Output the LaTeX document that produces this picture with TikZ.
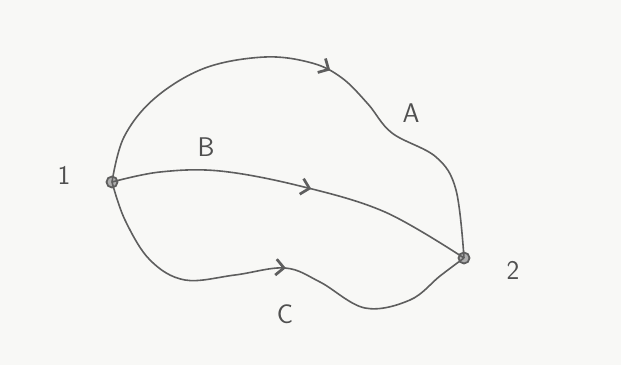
\documentclass[tikz,border=0pt]{standalone}
\usepackage{tikz}
\usetikzlibrary{arrows.meta,decorations.markings}
\definecolor{paper}{HTML}{F8F8F6}
\definecolor{pencil}{HTML}{5E5E5E}

\begin{document}
\begin{tikzpicture}[x=1pt,y=-1pt,>=Straight Barb,
  wire/.style={draw=pencil,line width=1.6pt},
  midarrow/.style={postaction={decorate},decoration={markings,
    mark=at position #1 with {\arrow[pencil,line width=1.6pt,scale=1.7]{>}}}}]
\fill[paper] (0,0) rectangle (621,365);
\useasboundingbox (0,0) rectangle (621,365);
\node[circle,draw=pencil,line width=1.8pt,fill=pencil!50,minimum size=11pt,inner sep=0pt] (p1) at (112,182) {};
\node[circle,draw=pencil,line width=1.8pt,fill=pencil!50,minimum size=11pt,inner sep=0pt] (p2) at (464,258) {};
\foreach \name/\x/\y/\txt in {l1/64/175/1, l2/513/270/2, la/411/113/A, lb/206/147/B, lc/285/314/C}
{
  \node[text=pencil!85!black,font=\fontsize{27}{30}\sffamily] (\name) at (\x,\y) {\txt};
}
\draw[wire,midarrow=0.535] plot[smooth,tension=0.6] coordinates {(p1.center) (124,137) (155,98) (205,68) (265,57) (312,63) (342,78) (368,104) (392,133) (436,157) (456,190) (p2.center)};
\draw[wire,midarrow=0.545] plot[smooth,tension=0.6] coordinates {(p1.center) (160,172) (220,171) (300,186) (385,212) (p2.center)};
\draw[wire,midarrow=0.53] plot[smooth,tension=0.6] coordinates {(p1.center) (125,220) (150,260) (185,280) (235,275) (285,268) (320,282) (365,308) (410,300) (440,276) (p2.center)};
\end{tikzpicture}
\end{document}
